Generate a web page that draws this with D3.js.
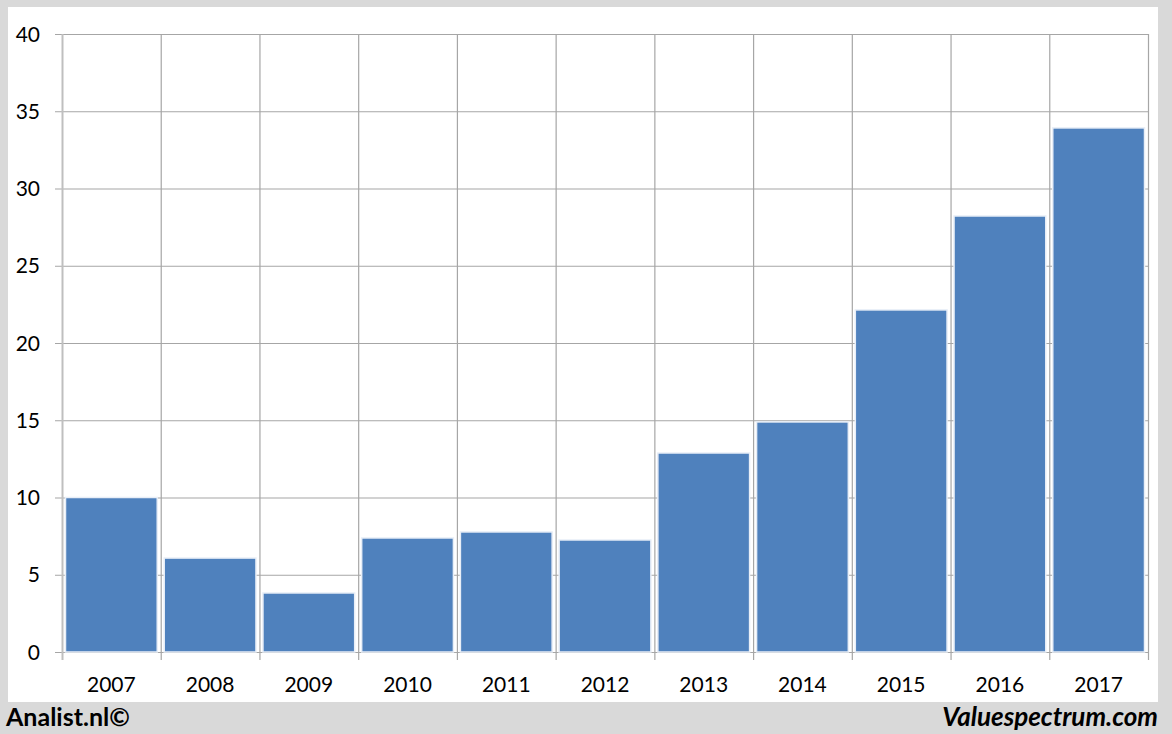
<!DOCTYPE html>
<html><head><meta charset="utf-8">
<script src="https://cdn.jsdelivr.net/npm/d3@7"></script>
<style>body{margin:0;background:#d9d9d9;}svg{display:block;}</style>
</head><body>
<svg id="c" width="1172" height="734"></svg>
<script>
const years = ["2007","2008","2009","2010","2011","2012","2013","2014","2015","2016","2017"];
const values = [10.0, 6.08, 3.82, 7.38, 7.77, 7.25, 12.88, 14.89, 22.14, 28.22, 33.92];
const yTicks = [0,5,10,15,20,25,30,35,40];

const svg = d3.select("#c");
const font = "Lato, 'Open Sans', sans-serif";
svg.append("rect").attr("x",0).attr("y",0).attr("width",1172).attr("height",734).attr("fill","#d9d9d9");
svg.append("rect").attr("x",8).attr("y",7).attr("width",1150).attr("height",695).attr("fill","#ffffff");

const L=62, R=1148, T=34, B=652;
const x = d3.scaleBand().domain(years).range([L,R]).paddingInner(0).paddingOuter(0);
const y = d3.scaleLinear().domain([0,40]).range([B,T]);

// horizontal grid
svg.append("g").selectAll("line").data(yTicks).join("line")
  .attr("x1",L-7).attr("x2",R).attr("y1",d=>y(d)+0.5).attr("y2",d=>y(d)+0.5)
  .attr("stroke","#a6a6a6").attr("stroke-width",1.2);
// vertical grid at category boundaries
const bounds = years.map(d=>x(d)).concat([R]);
svg.append("g").selectAll("line").data(bounds).join("line")
  .attr("x1",d=>d+0.5).attr("x2",d=>d+0.5).attr("y1",T).attr("y2",B+8)
  .attr("stroke",(d,i)=>i===0?"#bfbfbf":"#a6a6a6").attr("stroke-width",(d,i)=>i===0?2:1.2);

// bars
svg.append("g").selectAll("rect").data(values).join("rect")
  .attr("x",(d,i)=>x(years[i])+3.5)
  .attr("width",x.bandwidth()-7)
  .attr("y",d=>y(d))
  .attr("height",d=>B-y(d))
  .attr("fill","#4f81bd").attr("stroke","#e8eef7").attr("stroke-width",1.5);

// y labels
svg.append("g").selectAll("text").data(yTicks).join("text")
  .attr("x",40).attr("y",d=>y(d)+7.5).attr("text-anchor","end")
  .attr("font-family",font).attr("font-size",21).attr("fill","#000")
  .text(d=>d);
// x labels
svg.append("g").selectAll("text").data(years).join("text")
  .attr("x",d=>x(d)+x.bandwidth()/2).attr("y",692).attr("text-anchor","middle")
  .attr("font-family",font).attr("font-size",21).attr("fill","#000")
  .text(d=>d);

svg.append("text").attr("x",6).attr("y",726).attr("font-family",font).attr("font-size",25)
  .attr("font-weight","bold").attr("fill","#000").text("Analist.nl©");
svg.append("text").attr("x",1158).attr("y",726).attr("text-anchor","end").attr("font-family",font).attr("font-size",26)
  .attr("font-weight","bold").attr("font-style","italic").attr("fill","#000").text("Valuespectrum.com");
</script>
</body></html>
